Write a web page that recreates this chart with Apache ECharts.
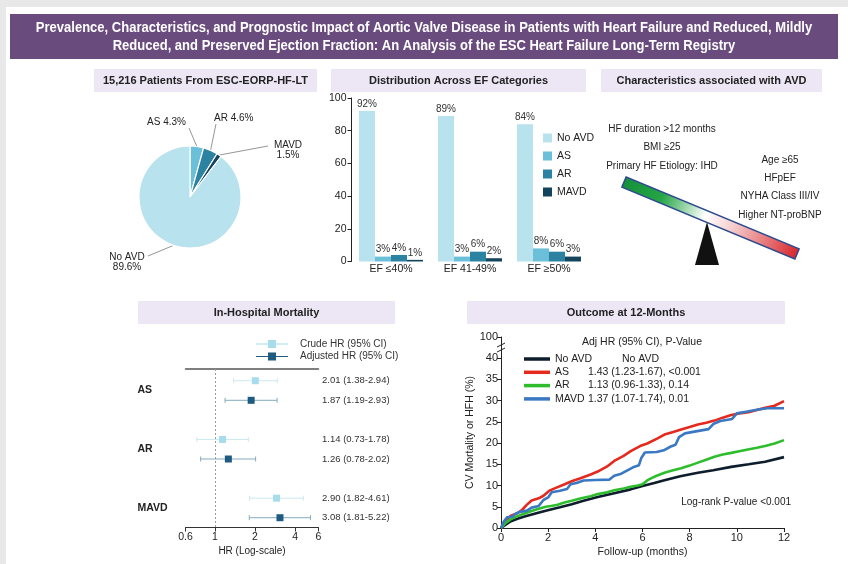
<!DOCTYPE html>
<html>
<head>
<meta charset="utf-8">
<script src="https://cdn.jsdelivr.net/npm/echarts@6.0.0/dist/echarts.min.js"></script>
<style>
  html, body { margin: 0; padding: 0; background: #e8e8e8; }
  #wrap { position: relative; width: 848px; height: 564px; }
  .layer { position: absolute; left: 0; top: 0; width: 848px; height: 564px; }
</style>
</head>
<body>
<div id="wrap">
  <div id="frame" class="layer"></div>
  <div id="pie" class="layer"></div>
  <div id="bars" class="layer"></div>
  <div id="forest" class="layer"></div>
  <div id="km" class="layer"></div>
</div>
<script>
// ---------- data ----------
const avdGroups = ['No AVD', 'AS', 'AR', 'MAVD'];
const groupColors = ['#b9e2ef', '#6cbfd8', '#2b82a1', '#15445d'];

// overall prevalence (%), 15,216 patients
const pieNames = ['AS', 'AR', 'MAVD', 'No AVD'];
const pieShares = [4.3, 4.6, 1.5, 89.6];
const pieColors = ['#6cbfd8', '#2b82a1', '#15445d', '#b9e2ef'];

// distribution across EF categories (%)
const efCategories = ['EF \u226440%', 'EF 41-49%', 'EF \u226550%'];
const noAvdByEF = [92, 89, 84];
const asByEF = [3, 3, 8];
const arByEF = [4, 6, 6];
const mavdByEF = [1, 2, 3];

// in-hospital mortality hazard ratios
const forestGroups = ['AS', 'AR', 'MAVD'];
const crudeHR = [2.01, 1.14, 2.90];
const crudeLo = [1.38, 0.73, 1.82];
const crudeHi = [2.94, 1.78, 4.61];
const adjHR = [1.87, 1.26, 3.08];
const adjLo = [1.19, 0.78, 1.81];
const adjHi = [2.93, 2.02, 5.22];
const hrTicks = [0.6, 1, 2, 4, 6];
const hrTickLabels = ['0.6', '1', '2', '4', '6'];

// cumulative CV mortality or HFH (%) over 12 months of follow-up
const kmNoAVD = [[0,0],[0.2,0.8],[0.42,1.6],[0.7,2.2],[1.0,2.7],[1.5,3.5],[1.98,4.2],[2.5,4.9],[3.0,5.6],[3.5,6.4],[4.1,7.3],[4.8,8.2],[5.5,9.1],[6.0,9.9],[6.5,10.6],[6.93,11.25],[7.6,12.2],[8.35,13.0],[9.0,13.6],[9.76,14.4],[10.5,15.0],[11.2,15.6],[12,16.7]];
const kmAS = [[0,0],[0.2,1.7],[0.42,2.9],[0.7,3.5],[0.9,4.3],[1.1,5.5],[1.3,6.5],[1.6,7.0],[1.8,7.6],[2.05,8.8],[2.3,9.4],[2.7,10.3],[3.0,11.0],[3.4,11.8],[3.8,12.6],[4.1,13.3],[4.5,14.5],[4.8,15.8],[5.2,17.0],[5.5,18.1],[5.9,19.3],[6.2,19.9],[6.6,21.0],[6.93,22.0],[7.3,22.6],[7.64,23.2],[8.0,23.8],[8.35,24.4],[8.7,24.8],[9.05,25.3],[9.4,26.0],[9.76,26.6],[10.1,27.0],[10.5,27.3],[10.85,27.8],[11.2,28.3],[11.6,28.8],[12,29.9]];
const kmAR = [[0,0],[0.2,1.2],[0.42,2.1],[0.7,2.8],[1.0,3.4],[1.3,4.0],[1.56,4.5],[1.9,5.0],[2.12,5.2],[2.4,5.5],[2.69,6.0],[3.0,6.4],[3.4,7.0],[3.8,7.5],[4.1,8.0],[4.5,8.4],[4.8,8.9],[5.2,9.3],[5.5,9.7],[5.8,10.0],[6.0,10.3],[6.2,11.2],[6.36,11.7],[6.6,12.3],[6.93,13.0],[7.3,13.6],[7.64,14.1],[8.0,14.7],[8.35,15.4],[8.7,16.1],[9.05,16.8],[9.4,17.3],[9.76,17.7],[10.1,18.1],[10.47,18.5],[10.85,18.9],[11.2,19.3],[11.6,19.9],[12,20.7]];
const kmMAVD = [[0,0],[0.12,1.5],[0.25,2.5],[0.5,2.7],[0.6,3.3],[0.8,3.8],[1.1,4.1],[1.3,4.8],[1.6,5.2],[1.8,6.6],[2.0,7.2],[2.15,8.4],[2.5,8.8],[2.8,9.2],[2.95,10.3],[3.2,10.6],[3.5,11.2],[4.0,11.3],[4.6,11.4],[4.8,12.3],[5.1,12.8],[5.3,13.4],[5.6,14.3],[5.85,14.8],[5.95,16.5],[6.1,17.8],[6.6,17.9],[6.9,18.3],[7.2,19.2],[7.4,19.6],[7.55,21.4],[7.8,22.3],[8.2,22.7],[8.8,23.3],[9.0,24.5],[9.3,25.2],[9.8,25.7],[10.0,27.0],[10.4,27.4],[10.9,27.9],[11.3,28.2],[12,28.2]];
const kmStats = ['No AVD', '1.43 (1.23-1.67), <0.001', '1.13 (0.96-1.33), 0.14', '1.37 (1.07-1.74), 0.01'];
const kmColors = ['#0e1d2b', '#e42a1f', '#2dbd2d', '#3a78c3'];
// y axis is broken above 40 %; its top tick stands for 100 %
const kmYTicks = [0, 5, 10, 15, 20, 25, 30, 35, 40, 45];
const kmYTickLabels = ['0', '5', '10', '15', '20', '25', '30', '35', '40', '100'];

const seesawLeft = ['HF duration >12 months', 'BMI \u226525', 'Primary HF Etiology: IHD'];
const seesawRight = ['Age \u226565', 'HFpEF', 'NYHA Class III/IV', 'Higher NT-proBNP'];

// ---------- shared styling ----------
const FONT = "'Liberation Sans', Arial, Helvetica, sans-serif";
const INK = '#222';
const BOX = '#ece6f5';

function boxTitle(x, y, w, h, text) {
  return [
    { type: 'rect', shape: { x: x, y: y, width: w, height: h }, style: { fill: BOX } },
    { type: 'text', x: x + w / 2, y: y + h / 2,
      style: { text: text, fill: INK, fontFamily: FONT, fontWeight: 'bold', fontSize: 11,
               align: 'center', verticalAlign: 'middle' } }
  ];
}

// ---------- page frame, headings, seesaw ----------
const frame = echarts.init(document.getElementById('frame'));
const beamAngle = Math.atan2(72, 173);
const frameGraphics = [
  { type: 'rect', shape: { x: 0, y: 0, width: 848, height: 564 }, style: { fill: '#e8e8e8' } },
  { type: 'rect', shape: { x: 6, y: 7, width: 842, height: 557 }, style: { fill: '#ffffff' } },
  { type: 'rect', shape: { x: 10, y: 14, width: 828, height: 45 }, style: { fill: '#694b7e' } },
  // condensed heading: regular sans squeezed horizontally
  { type: 'text', x: 424, y: 37, scaleX: 0.93,
    style: { text: 'Prevalence, Characteristics, and Prognostic Impact of Aortic Valve Disease in Patients with Heart Failure and Reduced, Mildly\nReduced, and Preserved Ejection Fraction: An Analysis of the ESC Heart Failure Long-Term Registry',
             fill: '#ffffff', fontFamily: FONT,
             fontWeight: 'bold', fontSize: 14, lineHeight: 18, align: 'center', verticalAlign: 'middle' } }
]
  .concat(boxTitle(94, 69, 223, 23, '15,216 Patients From ESC-EORP-HF-LT'))
  .concat(boxTitle(331, 69, 255, 23, 'Distribution Across EF Categories'))
  .concat(boxTitle(601, 69, 221, 23, 'Characteristics associated with AVD'))
  .concat(boxTitle(138, 301, 257, 23, 'In-Hospital Mortality'))
  .concat(boxTitle(467, 301, 318, 23, 'Outcome at 12-Months'))
  .concat([
    { type: 'polygon', shape: { points: [[707, 222], [695, 265], [719, 265]] }, style: { fill: '#111111' } },
    { type: 'rect', x: 710.5, y: 218, rotation: -beamAngle,
      shape: { x: -93.7, y: -5.5, width: 187.4, height: 11 },
      style: { stroke: '#2d4b8e', lineWidth: 1.5,
               fill: { type: 'linear', x: 0, y: 0, x2: 1, y2: 0, colorStops: [
                 { offset: 0, color: '#14903a' }, { offset: 0.22, color: '#25a545' },
                 { offset: 0.47, color: '#ffffff' }, { offset: 0.62, color: '#f6d0d0' },
                 { offset: 1, color: '#d8262a' } ] } } }
  ])
  .concat(seesawLeft.map((t, i) => ({ type: 'text', x: 662, y: 129 + i * 18.5,
    style: { text: t, fill: INK, fontFamily: FONT, fontSize: 10, align: 'center', verticalAlign: 'middle' } })))
  .concat(seesawRight.map((t, i) => ({ type: 'text', x: 780, y: 160 + i * 18.3,
    style: { text: t, fill: INK, fontFamily: FONT, fontSize: 10, align: 'center', verticalAlign: 'middle' } })));
frame.setOption({ animation: false, graphic: frameGraphics });

// ---------- prevalence pie ----------
const pieLabelSpots = {
  'AS':     { x: 186, y: 122, align: 'right',  end: [189, 128] },
  'AR':     { x: 214, y: 118, align: 'left',   end: [216, 124] },
  'MAVD':   { x: 288, y: 150, align: 'center', end: [268, 146] },
  'No AVD': { x: 127, y: 262, align: 'center', end: [148, 256] }
};
const pie = echarts.init(document.getElementById('pie'));
pie.setOption({
  animation: false,
  textStyle: { fontFamily: FONT },
  series: [{
    type: 'pie', center: [190, 197], radius: 51, startAngle: 90, clockwise: true,
    avoidLabelOverlap: false,
    data: pieNames.map((n, i) => ({ name: n, value: pieShares[i], itemStyle: { color: pieColors[i] } })),
    itemStyle: { borderColor: '#ffffff', borderWidth: 1.2 },
    label: {
      show: true, position: 'outside', fontSize: 10, lineHeight: 10, color: INK, fontFamily: FONT,
      formatter: p => (p.name === 'AS' || p.name === 'AR')
        ? p.name + ' ' + p.value.toFixed(1) + '%'
        : p.name + '\n' + p.value.toFixed(1) + '%'
    },
    labelLine: { show: true, length: 10, length2: 10, lineStyle: { color: '#8a8a8a', width: 0.9 } },
    labelLayout: function (params) {
      const spot = pieLabelSpots[pieNames[params.dataIndex]];
      const out = { x: spot.x, y: spot.y, align: spot.align, verticalAlign: 'middle' };
      if (params.labelLinePoints) {
        out.labelLinePoints = [params.labelLinePoints[0], spot.end];
      }
      return out;
    }
  }]
});

// ---------- EF category bars ----------
const efSeries = [noAvdByEF, asByEF, arByEF, mavdByEF];
const bars = echarts.init(document.getElementById('bars'));
bars.setOption({
  animation: false,
  textStyle: { fontFamily: FONT },
  grid: { left: 351.5, top: 98, width: 237, height: 163.5 },
  legend: {
    orient: 'vertical', left: 538, top: 127, icon: 'rect', itemWidth: 9, itemHeight: 9, itemGap: 6,
    textStyle: { fontSize: 10.5, color: INK, fontFamily: FONT, lineHeight: 12 }, data: avdGroups
  },
  xAxis: {
    type: 'category', data: efCategories,
    axisLine: { show: false }, axisTick: { show: false },
    axisLabel: { fontSize: 10.5, color: INK, margin: 2 }
  },
  yAxis: {
    type: 'value', min: 0, max: 100, interval: 20,
    axisLine: { show: true, lineStyle: { color: INK } },
    axisTick: { show: true, length: 4, lineStyle: { color: INK } },
    splitLine: { show: false },
    axisLabel: { fontSize: 10.5, color: INK, margin: 5 }
  },
  series: avdGroups.map((g, i) => ({
    type: 'bar', name: g, data: efSeries[i], barWidth: 16, barGap: '0%',
    itemStyle: { color: groupColors[i] },
    label: { show: true, position: 'top', distance: 2, formatter: '{c}%', fontSize: 10, color: '#333' }
  }))
});

// ---------- in-hospital mortality forest plot ----------
const toLog = v => Math.log10(v);
const crudeStyle = { whisker: '#cbe8f1', box: '#a6dcec' };
const adjStyle = { whisker: '#86abc0', box: '#1f5b80' };
const forestIcon = 'path://M0 3.5H12V0H20V3.5H32V4.5H20V8H12V4.5H0Z';
const fmtHR = (h, l, u) => h.toFixed(2) + ' (' + l.toFixed(2) + '-' + u.toFixed(2) + ')';

function forestRows(hr, lo, hi, offset) {
  return hr.map((h, i) => [toLog(h), toLog(lo[i]), toLog(hi[i]), i * 3 + offset]);
}
function forestRenderer(st, hr, lo, hi) {
  return function (params, api) {
    const y = api.value(3);
    const mid = api.coord([api.value(0), y]);
    const l = api.coord([api.value(1), y]);
    const r = api.coord([api.value(2), y]);
    const cs = params.coordSys;
    const cap = 2.5, s = 7;
    const k = params.dataIndex;
    return {
      type: 'group',
      children: [
        { type: 'line', shape: { x1: l[0], y1: mid[1], x2: r[0], y2: mid[1] }, style: { stroke: st.whisker, lineWidth: 1 } },
        { type: 'line', shape: { x1: l[0], y1: mid[1] - cap, x2: l[0], y2: mid[1] + cap }, style: { stroke: st.whisker, lineWidth: 1 } },
        { type: 'line', shape: { x1: r[0], y1: mid[1] - cap, x2: r[0], y2: mid[1] + cap }, style: { stroke: st.whisker, lineWidth: 1 } },
        { type: 'rect', shape: { x: mid[0] - s / 2, y: mid[1] - s / 2, width: s, height: s }, style: { fill: st.box } },
        { type: 'text', x: cs.x + cs.width + 3.5, y: mid[1],
          style: { text: fmtHR(hr[k], lo[k], hi[k]), fill: '#333',
                   fontSize: 9.5, fontFamily: FONT, align: 'left', verticalAlign: 'middle' } }
      ]
    };
  };
}
const hrLabel = v => {
  const i = hrTicks.findIndex(t => Math.abs(toLog(t) - v) < 1e-6);
  return i >= 0 ? hrTickLabels[i] : '';
};
const forest = echarts.init(document.getElementById('forest'));
forest.setOption({
  animation: false,
  textStyle: { fontFamily: FONT },
  grid: { left: 185.5, top: 369, width: 133, height: 158.5 },
  legend: {
    orient: 'vertical', left: 251, top: 333, itemWidth: 32, itemHeight: 8, itemGap: 0.5,
    textStyle: { fontSize: 10, color: '#333', fontFamily: FONT, lineHeight: 12, padding: [0, 0, 0, 7] },
    data: [{ name: 'Crude HR (95% CI)', icon: forestIcon }, { name: 'Adjusted HR (95% CI)', icon: forestIcon }]
  },
  xAxis: [{
    type: 'value', min: toLog(0.6), max: toLog(6),
    axisLine: { show: true, onZero: false, lineStyle: { color: '#333' } },
    axisTick: { show: true, length: 4, customValues: hrTicks.map(toLog), lineStyle: { color: '#333' } },
    axisLabel: { customValues: hrTicks.map(toLog), formatter: hrLabel, fontSize: 10.5, color: INK, margin: 4 },
    splitLine: { show: false },
    name: 'HR (Log-scale)', nameLocation: 'middle', nameGap: 19,
    nameTextStyle: { fontSize: 10, color: INK, fontFamily: FONT }
  }, {
    type: 'value', position: 'top', min: toLog(0.6), max: toLog(6),
    axisLine: { show: true, onZero: false, lineStyle: { color: '#555', width: 1.5 } },
    axisTick: { show: false }, axisLabel: { show: false }, splitLine: { show: false }
  }],
  yAxis: {
    type: 'value', inverse: true, min: -0.6, max: 7.5,
    axisLine: { show: false, onZero: false }, axisTick: { show: false }, splitLine: { show: false },
    axisLabel: {
      customValues: forestGroups.map((g, i) => i * 3 + 0.5),
      formatter: v => forestGroups[Math.round((v - 0.5) / 3)],
      align: 'left', margin: 48, fontSize: 10.5, fontWeight: 'bold', color: INK
    }
  },
  series: [{
    type: 'custom', name: 'Crude HR (95% CI)', clip: false,
    itemStyle: { color: crudeStyle.box },
    encode: { x: [0, 1, 2], y: 3 },
    renderItem: forestRenderer(crudeStyle, crudeHR, crudeLo, crudeHi),
    data: forestRows(crudeHR, crudeLo, crudeHi, 0),
    markLine: {
      silent: true, symbol: 'none', label: { show: false },
      lineStyle: { color: '#9a9a9a', type: [2, 2], width: 1 },
      data: [{ xAxis: 0 }]
    }
  }, {
    type: 'custom', name: 'Adjusted HR (95% CI)', clip: false,
    itemStyle: { color: adjStyle.box },
    encode: { x: [0, 1, 2], y: 3 },
    renderItem: forestRenderer(adjStyle, adjHR, adjLo, adjHi),
    data: forestRows(adjHR, adjLo, adjHi, 1)
  }]
});

// ---------- 12-month outcome curves ----------
const kmSeriesData = [kmNoAVD, kmAS, kmAR, kmMAVD];
const kmTexts = [
  { type: 'text', x: 642, y: 342, style: { text: 'Adj HR (95% CI), P-Value', fill: INK, fontFamily: FONT,
    fontSize: 10.5, align: 'center', verticalAlign: 'middle' } },
  { type: 'text', x: 791, y: 502, style: { text: 'Log-rank P-value <0.001', fill: INK, fontFamily: FONT,
    fontSize: 10, align: 'right', verticalAlign: 'middle' } }
];
const km = echarts.init(document.getElementById('km'));
km.setOption({
  animation: false,
  textStyle: { fontFamily: FONT },
  grid: { left: 501, top: 337, width: 283, height: 191 },
  legend: {
    orient: 'vertical', left: 519, top: 347.5, icon: 'rect', itemWidth: 26, itemHeight: 3.5, itemGap: 0.3,
    data: avdGroups,
    formatter: name => {
      const i = avdGroups.indexOf(name);
      return (i === 0 ? '{wide|' : '{n|') + name + '}{s|' + kmStats[i] + '}';
    },
    textStyle: {
      fontSize: 10.5, color: INK, fontFamily: FONT, lineHeight: 13,
      rich: {
        n: { width: 33, fontSize: 10.5, fontFamily: FONT, color: INK },
        wide: { width: 67, fontSize: 10.5, fontFamily: FONT, color: INK },
        s: { fontSize: 10.5, fontFamily: FONT, color: INK }
      }
    }
  },
  xAxis: {
    type: 'value', min: 0, max: 12, interval: 2,
    axisLine: { show: true, lineStyle: { color: INK } },
    axisTick: { show: true, length: 4, lineStyle: { color: INK } },
    axisLabel: { fontSize: 11, color: INK, margin: 4 },
    splitLine: { show: false },
    name: 'Follow-up (months)', nameLocation: 'middle', nameGap: 19,
    nameTextStyle: { fontSize: 10.5, color: INK, fontFamily: FONT }
  },
  yAxis: {
    type: 'value', min: 0, max: 45, interval: 5,
    axisLine: { show: true, lineStyle: { color: INK } },
    axisTick: { show: true, length: 4, lineStyle: { color: INK } },
    axisLabel: { fontSize: 11, color: INK, margin: 3,
                 formatter: v => kmYTickLabels[kmYTicks.indexOf(v)] },
    splitLine: { show: false },
    name: 'CV Mortality or HFH (%)', nameLocation: 'middle', nameGap: 12, nameRotate: 90,
    nameTextStyle: { fontSize: 10.5, color: INK, fontFamily: FONT }
  },
  series: avdGroups.map((g, i) => ({
    type: 'line', name: g, data: kmSeriesData[i], showSymbol: false, symbol: 'none',
    lineStyle: { width: 2.6, color: kmColors[i] }, itemStyle: { color: kmColors[i] }
  })),
  graphic: kmTexts
});
// axis break marks between 40 and the top tick
const brk = km.convertToPixel({ gridIndex: 0 }, [0, 42.4]);
km.setOption({
  graphic: kmTexts.concat([
    { type: 'rect', shape: { x: brk[0] - 3, y: brk[1] - 3, width: 6, height: 6 }, style: { fill: '#ffffff' } },
    { type: 'line', shape: { x1: brk[0] - 4, y1: brk[1] - 1, x2: brk[0] + 4, y2: brk[1] - 5 }, style: { stroke: INK, lineWidth: 1 } },
    { type: 'line', shape: { x1: brk[0] - 4, y1: brk[1] + 4, x2: brk[0] + 4, y2: brk[1] }, style: { stroke: INK, lineWidth: 1 } }
  ])
}, { replaceMerge: ['graphic'] });
</script>
</body>
</html>
